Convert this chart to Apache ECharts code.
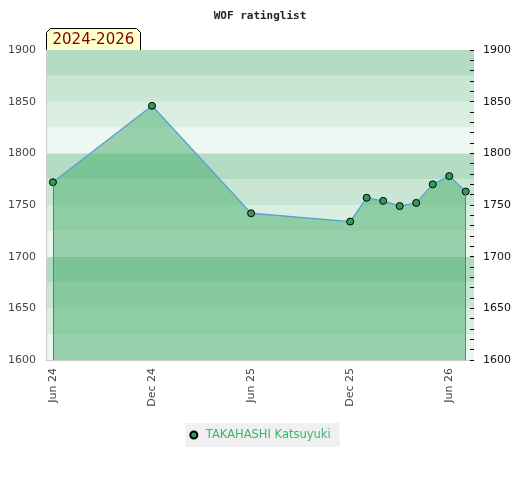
<!DOCTYPE html>
<html>
	<head>
		<meta charset="UTF-8">
		<title>WOF ratinglist</title>
		<script src="https://cdn.jsdelivr.net/npm/echarts@6/dist/echarts.min.js"></script>
		<style type="text/css">
			html, body{
				margin: 0;
				padding: 0;
				background: #fff;
			}
			#chart{
				width: 520px;
				height: 480px;
			}
		</style>
	</head>
	<body>
		<div id="chart"></div>
		<script>
		// months counted from Jun 2024
		var months = [0, 6, 12, 18, 19, 20, 21, 22, 23, 24, 25];
		var ratings = [1772, 1846, 1742, 1734, 1757, 1754, 1749, 1752, 1770, 1778, 1763];
		var xTickValues = [0, 6, 12, 18, 24];
		var xTickLabels = ['Jun 24', 'Dec 24', 'Jun 25', 'Dec 25', 'Jun 26'];
		var playerName = 'TAKAHASHI Katsuyuki';
		var periodLabel = '2024-2026';
		var yMin = 1600, yMax = 1900;

		var points = [];
		for (var i = 0; i < months.length; i++) {
			points.push([months[i], ratings[i]]);
		}
		var last = points.length - 1;
		// vertical edges of the filled area, from the baseline to the end points
		var edgeLines = [
			[{coord: [months[0], yMin]}, {coord: [months[0], ratings[0]]}],
			[{coord: [months[last], yMin]}, {coord: [months[last], ratings[last]]}]
		];

		var myChart = echarts.init(document.getElementById('chart'));
		var font = 'DejaVu Sans';
		var option = {
			animation: false,
			title: {
				text: 'WOF ratinglist',
				left: 'center',
				top: 6,
				textStyle: {
					fontFamily: 'DejaVu Sans Mono',
					fontWeight: 'bold',
					fontSize: 11,
					color: '#222'
				}
			},
			grid: {
				left: 46,
				right: 46,
				top: 50,
				bottom: 120
			},
			legend: {
				data: [playerName],
				bottom: 33,
				left: 'center',
				icon: 'circle',
				itemWidth: 14,
				itemHeight: 7,
				padding: [6, 9, 6, 4],
				backgroundColor: '#f0f0f0',
				textStyle: {
					color: '#3cb371',
					fontFamily: font,
					fontSize: 11.5
				}
			},
			xAxis: {
				type: 'value',
				min: -0.42,
				max: 25.5,
				axisLine: {onZero: false, lineStyle: {color: '#ccc'}},
				axisTick: {show: false},
				splitLine: {show: false},
				axisLabel: {
					customValues: xTickValues,
					rotate: 90,
					margin: 8,
					color: '#444',
					fontFamily: font,
					fontSize: 11,
					formatter: function (v) {
						var k = xTickValues.indexOf(v);
						return k < 0 ? '' : xTickLabels[k];
					}
				}
			},
			yAxis: [
				{
					type: 'value',
					min: yMin,
					max: yMax,
					interval: 25,
					axisLine: {show: true, onZero: false, lineStyle: {color: '#ccc'}},
					axisTick: {show: false},
					splitLine: {show: false},
					splitArea: {
						show: true,
						areaStyle: {color: ['#eef7f1', '#dbeee2', '#c8e6d3', '#b3dcc2']}
					},
					axisLabel: {
						color: '#444',
						fontFamily: font,
						fontSize: 11,
						margin: 10,
						formatter: function (v) {
							return v % 50 === 0 ? String(v) : '';
						}
					}
				},
				{
					type: 'value',
					position: 'right',
					min: yMin,
					max: yMax,
					interval: 50,
					axisLine: {show: false, onZero: false},
					axisTick: {show: true, inside: true, length: 4, lineStyle: {color: '#000'}},
					minorTick: {show: true, splitNumber: 5, length: 4, lineStyle: {color: '#000'}},
					splitLine: {show: false},
					axisLabel: {
						color: '#111',
						fontFamily: font,
						fontSize: 11,
						margin: 9,
						formatter: function (v) {
							return String(v);
						}
					}
				}
			],
			series: [
				{
					name: playerName,
					type: 'line',
					data: points,
					symbol: 'circle',
					symbolSize: 7,
					itemStyle: {
						color: '#2e9d5a',
						borderColor: '#000',
						borderWidth: 1
					},
					lineStyle: {color: '#5b9fd6', width: 1.3},
					areaStyle: {
						origin: 'start',
						color: 'rgba(67,172,104,0.5)',
						opacity: 1
					},
					markLine: {
						silent: true,
						symbol: 'none',
						label: {show: false},
						lineStyle: {color: '#3a9a5c', width: 1, type: 'solid'},
						data: edgeLines
					},
					z: 3
				}
			],
			graphic: [
				{
					type: 'group',
					left: 46,
					top: 28,
					z: 10,
					children: [
						{
							type: 'polygon',
							shape: {points: [[0, 22], [0, 4], [4, 0], [90, 0], [94, 4], [94, 22]]},
							style: {fill: '#ffffcc', stroke: '#000', lineWidth: 1}
						},
						{
							type: 'text',
							x: 6,
							y: 4,
							style: {
								text: periodLabel,
								fill: '#800000',
								font: '15px "DejaVu Sans"'
							}
						}
					]
				}
			]
		};
		myChart.setOption(option);
		</script>
	</body>
</html>
